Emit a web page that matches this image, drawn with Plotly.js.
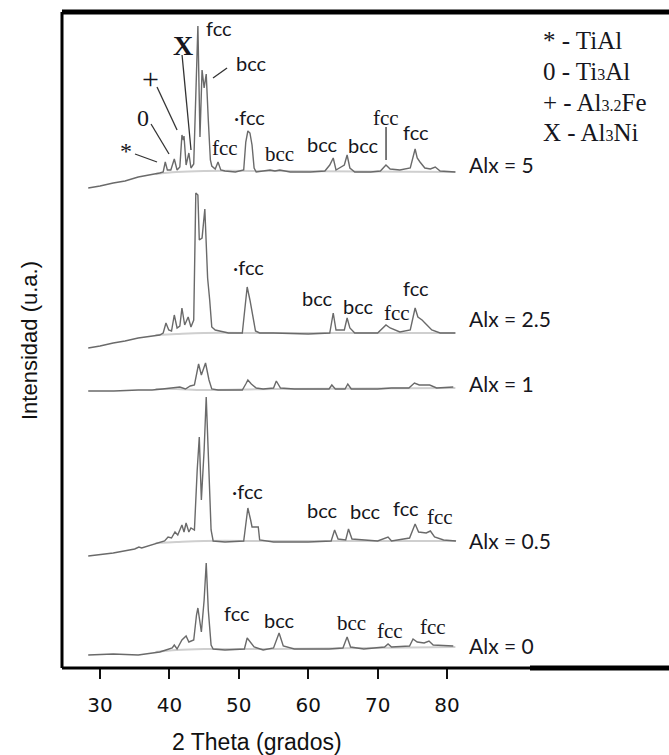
<!DOCTYPE html>
<html>
<head>
<meta charset="utf-8">
<script src="https://cdn.plot.ly/plotly-3.0.1.min.js"></script>
<style>html,body{margin:0;padding:0;background:#fff}#chart{width:669px;height:755px}</style>
</head>
<body>
<div id="chart"></div>
<script>
// ---- data: 2 Theta (grados) and stacked intensity (u.a.) ----
var patternNames = ["Alx = 0", "Alx = 0.5", "Alx = 1", "Alx = 2.5", "Alx = 5"];

var theta5 = [28.3,30.0,31.9,33.6,35.5,37.2,38.6,39.1,39.4,39.7,40.2,40.7,41.1,41.5,41.8,42.0,42.1,42.4,42.8,43.1,43.5,43.8,44.1,44.4,44.7,45.0,45.3,45.6,45.9,46.1,46.6,47.0,47.4,48.0,49.5,50.7,51.0,51.3,51.6,51.9,52.2,52.5,53.8,54.5,55.2,55.9,57.4,60.3,62.4,63.1,63.6,64.0,65.2,65.6,66.0,66.7,69.0,70.4,71.2,71.8,73.2,74.7,75.4,75.7,76.1,76.8,77.6,78.3,79.0,81.2];
var int5   = [480,482,485,487,491,493,495,496,506,498,498,509,498,501,533,528,532,503,515,500,504,573,642,531,598,580,594,548,508,502,499,506,498,497,496,498,526,537,535,523,500,496,497,498,497,498,496,496,497,503,510,498,503,513,500,496,496,497,503,499,498,500,519,510,506,500,499,501,497,496];

var theta25 = [28.3,30.0,31.9,33.6,35.5,37.2,38.6,39.1,39.5,39.9,40.3,40.7,41.1,41.5,41.8,42.2,42.7,43.1,43.5,43.8,44.1,44.3,44.7,45.1,45.5,45.8,46.1,46.6,47.3,48.5,50.5,50.9,51.2,51.6,52.0,52.4,53.0,55.0,60.0,63.1,63.6,64.0,65.2,65.6,66.0,66.7,70.0,70.8,71.2,71.8,73.2,74.7,75.4,75.8,76.4,77.1,77.8,79.0,81.2];
var int25   = [320,322,325,327,330,332,333,335,345,338,337,353,340,342,360,343,351,341,348,475,473,428,430,459,390,368,341,338,337,335,335,358,381,368,353,337,335,335,334,335,355,338,338,350,340,335,335,340,343,340,336,338,360,351,348,343,338,335,335];

var theta1 = [28.3,32.0,35.5,37.5,39.0,40.5,41.5,42.3,43.0,43.6,44.0,44.2,44.6,45.2,45.7,46.1,47.0,50.5,51.0,51.3,51.8,52.5,53.5,55.0,55.4,56.0,58.0,63.0,63.4,63.9,65.3,65.7,66.2,70.0,72.0,74.5,75.3,76.0,77.5,78.5,80.9];
var int1   = [277,277,278,278,279,280,281,279,282,283,300,304,293,305,288,279,278,278,284,288,284,280,279,280,287,280,279,279,283,279,279,284,279,279,280,280,285,283,283,280,281];

var theta05 = [28.3,31.9,35.0,35.6,36.0,38.6,39.3,39.8,40.3,40.8,41.2,41.8,42.1,42.4,42.8,43.1,43.6,44.0,44.3,44.6,45.0,45.3,45.6,46.0,46.3,48.0,50.7,51.0,51.3,51.7,51.9,52.8,53.0,55.0,60.0,63.3,63.8,64.3,65.4,65.8,66.3,70.0,71.5,72.0,74.6,75.4,75.9,77.0,77.6,78.2,79.5,81.3];
var int05   = [112,115,119,121,120,125,127,131,130,136,133,143,136,145,136,140,138,198,231,168,218,271,208,138,127,126,127,143,160,148,141,141,128,126,126,127,138,129,128,139,129,127,131,127,130,144,136,135,137,131,128,127];

var theta0 = [28.3,31.9,35.5,38.6,39.5,40.4,40.7,41.1,41.8,42.4,42.8,43.5,43.9,44.1,44.6,45.0,45.3,45.6,46.0,46.3,48.0,50.8,51.2,51.7,52.2,53.5,55.0,55.8,56.4,58.0,63.0,65.0,65.6,66.1,68.0,71.0,71.5,72.0,74.6,75.1,75.7,76.7,77.4,78.0,80.9];
var int0   = [13,14,13,16,18,20,23,19,28,32,26,28,53,60,36,68,105,58,23,19,18,19,30,26,21,18,20,35,22,19,19,20,31,21,19,21,24,21,22,29,26,25,27,23,22];

// fitted background (light gray) under each pattern
var bgTheta = [38.0, 41.0, 45.0, 55.0, 81.2];
var bg5  = [494, 496, 497, 497, 496];
var bg25 = [333, 334, 335, 335, 335];
var bg1  = [279, 279, 278, 279, 280];
var bg05 = [125, 126, 127, 127, 127];
var bg0  = [16, 18, 19, 19, 21];

var tickVals = [30, 40, 50, 60, 70, 80];
var tickText = ["30", "40", "50", "60", "70", "80"];

// ---- traces ----
var lineColor = "#6a6a6a";
var bgColor = "#cfcfcf";
var traces = [];
[bg0, bg05, bg1, bg25, bg5].forEach(function (b) {
  traces.push({x: bgTheta, y: b, type: "scatter", mode: "lines", line: {color: bgColor, width: 2, shape: "spline"}, hoverinfo: "skip"});
});
var series = [[theta0, int0], [theta05, int05], [theta1, int1], [theta25, int25], [theta5, int5]];
series.forEach(function (s, i) {
  traces.push({x: s[0], y: s[1], name: patternNames[i], type: "scatter", mode: "lines", line: {color: lineColor, width: 1.4}});
});

// ---- annotations ----
var sans = "Lato, 'Liberation Sans', sans-serif";
var serif = "'Liberation Serif', 'DejaVu Serif', serif";
var txtColor = "#161620";
function lab(t, x, y, fam, size, extra) {
  var a = {text: t, x: x, y: y, xref: "x", yref: "y", showarrow: false, font: {family: fam, size: size, color: txtColor}, xanchor: "center", yanchor: "middle"};
  if (extra) for (var k in extra) a[k] = extra[k];
  return a;
}
var ann = [];
// pattern names
var nameY = [23, 128, 285, 350, 504];
patternNames.forEach(function (n, i) { ann.push(lab(n, 82.9, nameY[i], sans, 21, {xanchor: "left"})); });
// Alx = 5 phase marks
ann.push(lab("*", 33.75, 517, serif, 24));
ann.push(lab("0", 36.2, 550, serif, 24));
ann.push(lab("+", 37.2, 590, serif, 30));
ann.push(lab("<b>X</b>", 41.96, 623, serif, 28));
ann.push(lab("fcc", 47.15, 640, sans, 20));
ann.push(lab("bcc", 51.76, 605, sans, 20));
ann.push(lab("·fcc", 51.6, 551, sans, 20));
ann.push(lab("fcc", 48.0, 520, serif, 21));
ann.push(lab("bcc", 55.8, 514, serif, 21));
ann.push(lab("bcc", 62.0, 524, sans, 20));
ann.push(lab("bcc", 67.9, 523, sans, 20));
ann.push(lab("fcc", 71.2, 550, serif, 21));
ann.push(lab("fcc", 75.5, 536, sans, 20));
// Alx = 2.5
ann.push(lab("·fcc", 51.4, 401, sans, 20));
ann.push(lab("bcc", 61.4, 370, sans, 20));
ann.push(lab("bcc", 67.3, 362, sans, 20));
ann.push(lab("fcc", 72.8, 355, serif, 21));
ann.push(lab("fcc", 75.5, 380, sans, 20));
// Alx = 0.5
ann.push(lab("·fcc", 51.3, 177, sans, 20));
ann.push(lab("bcc", 62.1, 158, sans, 20));
ann.push(lab("bcc", 68.2, 157, sans, 20));
ann.push(lab("fcc", 74.1, 160, sans, 20));
ann.push(lab("fcc", 79.0, 151, serif, 21));
// Alx = 0
ann.push(lab("fcc", 49.7, 55, sans, 20));
ann.push(lab("bcc", 55.8, 48, sans, 20));
ann.push(lab("bcc", 66.2, 45, serif, 21));
ann.push(lab("fcc", 71.8, 37, serif, 21));
ann.push(lab("fcc", 78.0, 41, serif, 21));
// phase legend
var sub = function (t) { return "<span style='font-size:16px'>" + t + "</span>"; };
var legendText = ["* - TiAl", "0 - Ti" + sub("3") + "Al", "+ - Al" + sub("3.2") + "Fe", "X - Al" + sub("3") + "Ni"];
var legendY = [628, 597, 566, 536];
legendText.forEach(function (t, i) { ann.push(lab(t, 93.6, legendY[i], serif, 25, {xanchor: "left"})); });
// axis titles
ann.push({text: "2 Theta (grados)", xref: "paper", yref: "paper", x: (257 - 62) / 607, y: -0.113, yanchor: "middle", xanchor: "center", showarrow: false, font: {family: "'Liberation Sans', Arial, sans-serif", size: 23, color: "#111"}});
ann.push({text: "Intensidad (u.a.)", xref: "paper", yref: "paper", x: (30 - 62) / 607, y: (668 - 341) / 656, yanchor: "middle", xanchor: "center", textangle: -90, showarrow: false, font: {family: "'Liberation Sans', Arial, sans-serif", size: 22, color: "#111"}});

// ---- shapes: frame and leader lines ----
var shapes = [
  {type: "line", xref: "paper", yref: "paper", x0: 0, x1: 1, y0: 1, y1: 1, line: {color: "#000", width: 5}},
  {type: "line", xref: "paper", yref: "paper", x0: 0, x1: 0, y0: 0, y1: 1, line: {color: "#000", width: 3}},
  {type: "line", xref: "paper", yref: "paper", x0: 0, x1: 1, y0: 0, y1: 0, line: {color: "#000", width: 3}},
  {type: "line", xref: "paper", yref: "paper", x0: 0.771, x1: 1, y0: 0, y1: 0, line: {color: "#000", width: 5}}
];
var leaders = [[35.04, 514, 38.21, 506], [37.35, 544, 39.94, 514], [38.21, 581, 41.10, 538], [41.82, 613, 43.11, 518], [48.30, 600, 46.28, 590], [71.21, 541, 71.21, 508]];
leaders.forEach(function (l) {
  shapes.push({type: "line", xref: "x", yref: "y", x0: l[0], y0: l[1], x1: l[2], y1: l[3], line: {color: "#333", width: 1.3}});
});

var layout = {
  width: 669, height: 755,
  margin: {l: 62, r: 0, t: 12, b: 87},
  paper_bgcolor: "#fff", plot_bgcolor: "#fff",
  showlegend: false,
  xaxis: {range: [24.52, 111.98], tickvals: tickVals, ticktext: tickText, ticks: "outside", ticklen: 10, tickwidth: 2, tickcolor: "#111",
          showline: false, showgrid: false, zeroline: false, ticklabelstandoff: 9,
          tickfont: {family: "'DejaVu Sans', sans-serif", size: 20, color: "#111"}},
  yaxis: {range: [0, 656], visible: false, showgrid: false, zeroline: false},
  annotations: ann,
  shapes: shapes
};
Plotly.newPlot("chart", traces, layout, {staticPlot: true, displayModeBar: false});
</script>
</body>
</html>
